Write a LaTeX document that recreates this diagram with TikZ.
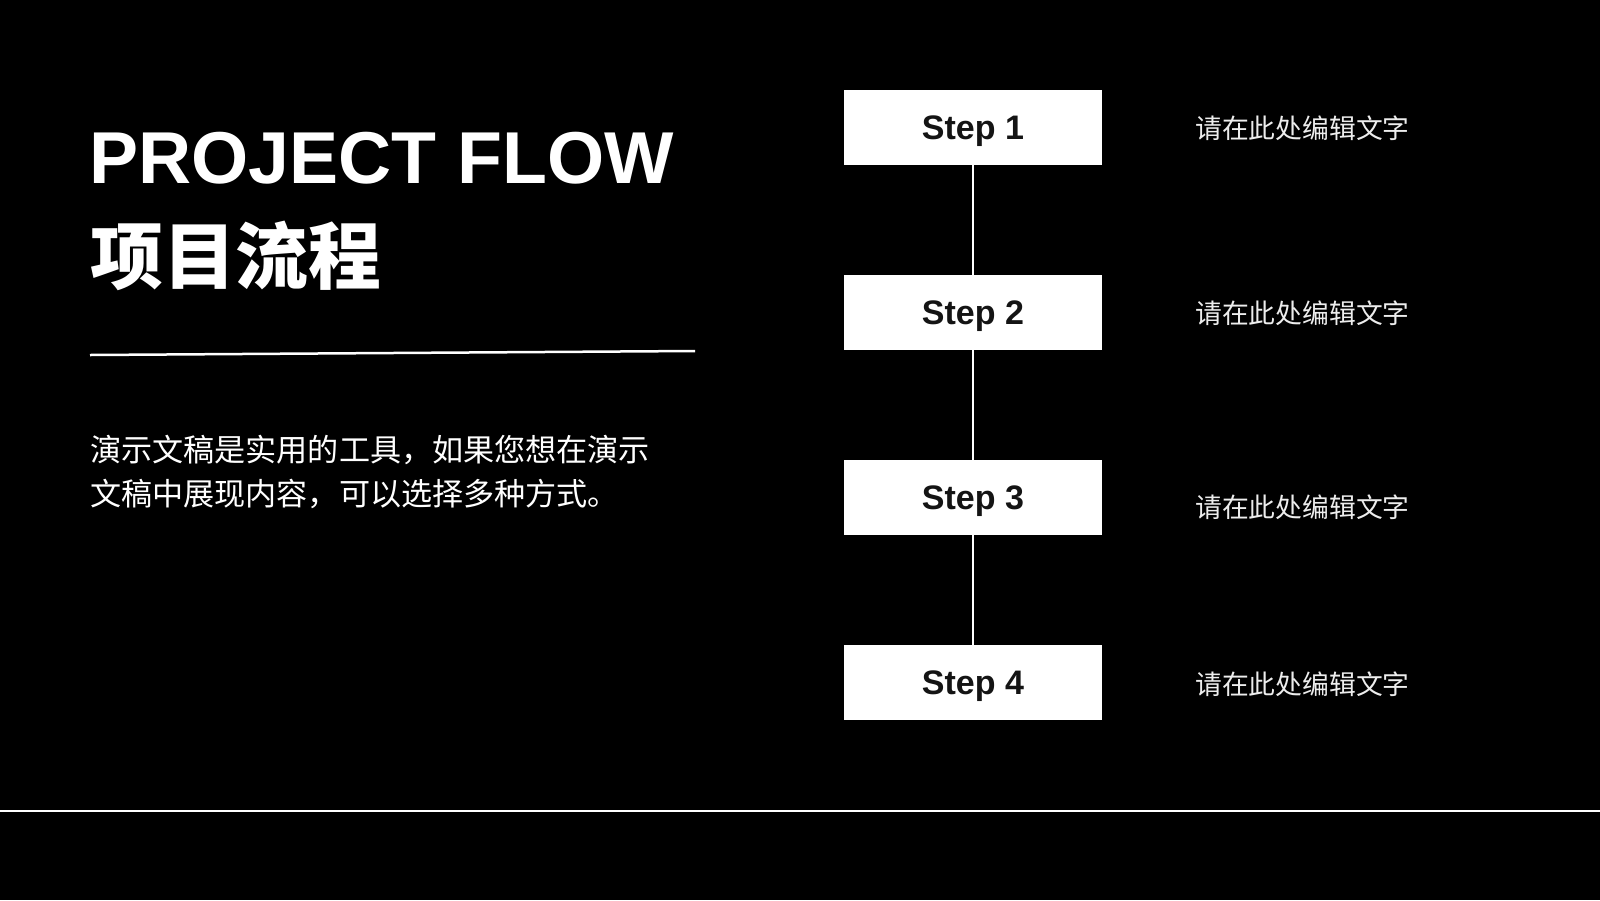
\documentclass[tikz,border=0pt]{standalone}
\usepackage{fontspec}
\setmainfont{Liberation Sans}
\newfontfamily\cjk{Noto Sans CJK SC}
\begin{document}
\begin{tikzpicture}[x=1pt,y=-1pt,
  stepbox/.style={fill=white, draw=none, minimum width=258pt, minimum height=75pt,
    inner sep=0pt, text height=24.3pt, text depth=0pt, text=black!92,
    font=\fontsize{34}{36}\selectfont\bfseries},
  sidelabel/.style={anchor=base west, inner sep=0pt, text=white!93!black,
    font=\cjk\fontsize{26.8}{30}\selectfont},
  para/.style={anchor=base west, inner sep=0pt, text=white,
    font=\cjk\fontsize{31.1}{44}\selectfont},
  link/.style={draw=white, line width=2pt},
  rule/.style={draw=white, line width=2.5pt}]
\fill[black] (0,0) rectangle (1600,900);
\useasboundingbox (0,0) rectangle (1600,900);

% title
\node[anchor=base west, inner sep=0pt, text=white,
  font=\fontsize{73.5}{80}\selectfont\bfseries] (t1) at (89.5,183) {PROJECT FLOW};
\node[anchor=base west, inner sep=0pt, text=white,
  font=\cjk\bfseries\fontsize{72.8}{80}\selectfont] (t2) at (90,283) {项目流程};

% underline
\coordinate (u1) at (90,355);
\coordinate (u2) at (695,351);
\draw[rule] (u1) -- (u2);

% paragraph
\node[para] (p1) at (90,461.5) {演示文稿是实用的工具，如果您想在演示};
\node[para] (p2) at (90,505.5) {文稿中展现内容，可以选择多种方式。};

% steps
\node[stepbox] (s1) at (973,127.5) {Step 1};
\node[stepbox] (s2) at (973,312.5) {Step 2};
\node[stepbox] (s3) at (973,497.5) {Step 3};
\node[stepbox] (s4) at (973,682.5) {Step 4};
\draw[link] (s1.south) -- (s2.north);
\draw[link] (s2.south) -- (s3.north);
\draw[link] (s3.south) -- (s4.north);

% side labels
\node[sidelabel] (l1) at (1195,138.5) {请在此处编辑文字};
\node[sidelabel] (l2) at (1195,323) {请在此处编辑文字};
\node[sidelabel] (l3) at (1195,517) {请在此处编辑文字};
\node[sidelabel] (l4) at (1195,694) {请在此处编辑文字};

% bottom rule
\coordinate (b1) at (0,811);
\coordinate (b2) at (1600,811);
\draw[link] (b1) -- (b2);
\end{tikzpicture}
\end{document}
